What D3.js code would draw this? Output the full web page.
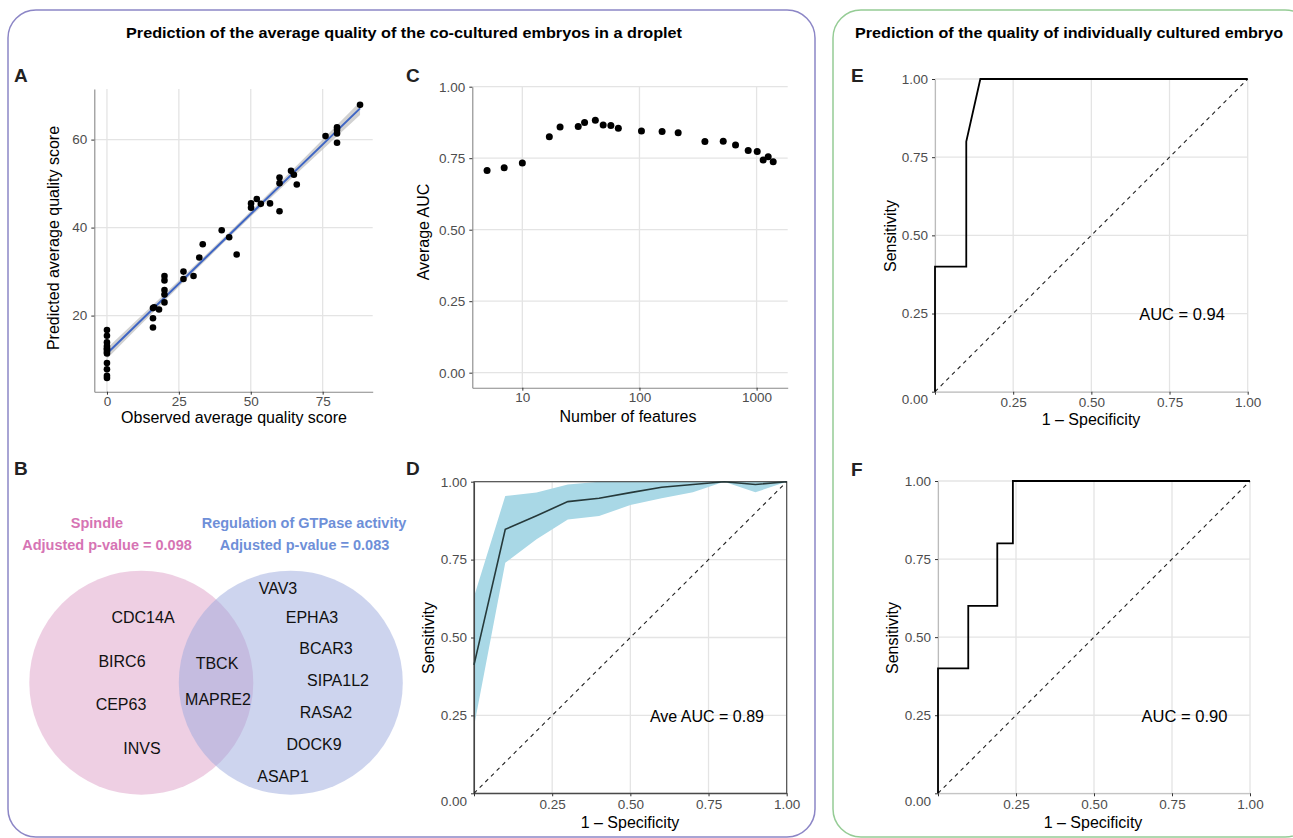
<!DOCTYPE html>
<html>
<head>
<meta charset="utf-8">
<script src="https://cdn.jsdelivr.net/npm/d3@7"></script>
<style>
  body { margin: 0; background: #fff; }
  text { font-family: "Liberation Sans", Arial, Helvetica, sans-serif; }
</style>
</head>
<body>
<svg id="fig" width="1293" height="838"></svg>
<script>
// ---- data ----
// A: observed vs predicted average quality score
const aObserved = [0,0,0,0,0,0,0,0,0,0,0,0,
  16,16.4,16,16,18.1,20,20,20,20,20,26.6,26.6,30.1,32.1,33.3,39.9,42.5,45.1,
  50.1,50.1,52.1,53.5,56.7,60,60,60,64,65,66,76,80,80,80,80,88];
const aPredicted = [16.7,15.4,13.9,13.1,12.6,12.3,11.8,11.4,9.2,7.8,6.3,5.8,
  21.7,21.9,19.4,17.3,21.4,29.0,28.0,25.8,24.8,23.0,30.0,28.3,29.0,33.2,36.2,39.4,37.8,33.9,
  45.5,44.5,46.5,45.4,45.5,51.4,50.1,43.7,52.9,52.0,49.8,60.8,62.8,62.2,61.4,59.3,67.9];
// lm fit with confidence band (x, fit, lower, upper)
const aFitX = [0, 44, 88];
const aFit = [11.4, 39.3, 67.1];
const aFitLo = [10.2, 38.7, 65.6];
const aFitHi = [12.6, 39.9, 68.6];

// C: number of features vs average AUC
const cFeatures = [5,7,10,17,21,30,34,42,49,57,66,104,156,214,362,519,661,848,1012,1138,1256,1386];
const cAuc = [0.707,0.717,0.733,0.825,0.859,0.861,0.875,0.883,0.866,0.864,0.855,0.845,
  0.843,0.839,0.808,0.809,0.796,0.777,0.773,0.744,0.755,0.738];

// D: average ROC with band
const dFpr = [0,0.1,0.2,0.3,0.4,0.5,0.6,0.7,0.8,0.9,1.0];
const dMean = [0.412,0.847,0.891,0.936,0.947,0.965,0.982,0.991,1.0,0.991,1.0];
const dUpper = [0.631,0.954,0.965,0.991,1.0,1.0,1.0,1.0,1.0,1.0,1.0];
const dLower = [0.214,0.740,0.815,0.879,0.890,0.925,0.947,0.966,1.0,0.966,1.0];

// E, F: single ROC curves
const eFpr = [0,0,0.1,0.1,0.145,1];
const eTpr = [0,0.4,0.4,0.8,1,1];
const fFpr = [0,0,0.097,0.097,0.19,0.19,0.24,0.24,1];
const fTpr = [0,0.4,0.4,0.6,0.6,0.8,0.8,1,1];

const rocTicks = [0, 0.25, 0.5, 0.75, 1];

// B: gene sets
const spindleOnly = ["CDC14A","BIRC6","CEP63","INVS"];
const sharedGenes = ["TBCK","MAPRE2"];
const gtpaseOnly = ["VAV3","EPHA3","BCAR3","SIPA1L2","RASA2","DOCK9","ASAP1"];
const setNames = ["Spindle", "Regulation of GTPase activity"];
const setPvals = ["Adjusted p-value = 0.098", "Adjusted p-value = 0.083"];

// ---- drawing ----
const svg = d3.select("#fig");
const tickGrey = "#4d4d4d";
const gridCol = "#e4e4e4";

// outer boxes
svg.append("rect").attr("x", 8).attr("y", 10).attr("width", 807).attr("height", 827)
  .attr("rx", 28).attr("fill", "none").attr("stroke", "#8c86c6").attr("stroke-width", 1.5);
svg.append("rect").attr("x", 833).attr("y", 10).attr("width", 480).attr("height", 827)
  .attr("rx", 28).attr("fill", "none").attr("stroke", "#95cc95").attr("stroke-width", 1.5);

svg.append("text").attr("x", 404).attr("y", 38).attr("text-anchor", "middle")
  .attr("font-weight", "bold").style("font-size", "14px")
  .attr("textLength", 556).attr("lengthAdjust", "spacingAndGlyphs")
  .text("Prediction of the average quality of the co-cultured embryos in a droplet");
svg.append("text").attr("x", 1069).attr("y", 38).attr("text-anchor", "middle")
  .attr("font-weight", "bold").style("font-size", "14px")
  .attr("textLength", 428).attr("lengthAdjust", "spacingAndGlyphs")
  .text("Prediction of the quality of individually cultured embryo");

const letters = [["A", 14, 82], ["C", 406, 82], ["B", 14, 475], ["D", 406, 475], ["E", 851, 82], ["F", 851, 476]];
svg.selectAll("text.letter").data(letters).join("text").attr("class", "letter")
  .attr("x", d => d[1]).attr("y", d => d[2])
  .attr("font-weight", "bold").style("font-size", "19px").attr("fill", "#222").text(d => d[0]);

function styleAxis(g, lineCol) {
  g.select(".domain").attr("stroke", lineCol).attr("stroke-width", 1.1);
  g.selectAll(".tick line").attr("stroke", "#333");
  g.selectAll(".tick text").attr("fill", tickGrey).style("font-size", "13.5px")
    .style("font-family", "'Liberation Sans', Arial, sans-serif");
}

function grid(g, x, y, xt, yt) {
  const [x0, x1] = x.range(), [y0, y1] = y.range();
  g.selectAll("line.gx").data(xt).join("line").attr("class", "gx")
    .attr("x1", d => x(d)).attr("x2", d => x(d)).attr("y1", y0).attr("y2", y1)
    .attr("stroke", gridCol).attr("stroke-width", 1.3);
  g.selectAll("line.gy").data(yt).join("line").attr("class", "gy")
    .attr("y1", d => y(d)).attr("y2", d => y(d)).attr("x1", x0).attr("x2", x1)
    .attr("stroke", gridCol).attr("stroke-width", 1.3);
}

function axisTitles(xLab, xx, xy, yLab, yx, yy) {
  svg.append("text").attr("x", xx).attr("y", xy).attr("text-anchor", "middle")
    .style("font-size", "16px").text(xLab);
  svg.append("text").attr("transform", `translate(${yx},${yy}) rotate(-90)`)
    .attr("text-anchor", "middle").style("font-size", "16px").text(yLab);
}

// ---- panel A ----
{
  const x = d3.scaleLinear().domain([-4.4, 92.4]).range([94.3, 372.7]);
  const y = d3.scaleLinear().domain([2.7, 71.5]).range([391.7, 89]);
  const g = svg.append("g");
  grid(g, x, y, [0, 25, 50, 75], [20, 40, 60]);
  const fit = aFitX.map((v, i) => ({x: v, y: aFit[i], lo: aFitLo[i], hi: aFitHi[i]}));
  g.append("path").datum(fit).attr("fill", "#bdbdbd").attr("opacity", 0.7)
    .attr("d", d3.area().x(d => x(d.x)).y0(d => y(d.lo)).y1(d => y(d.hi)).curve(d3.curveNatural));
  g.append("path").datum(fit).attr("fill", "none").attr("stroke", "#3f66c4").attr("stroke-width", 2)
    .attr("d", d3.line().x(d => x(d.x)).y(d => y(d.y)));
  g.selectAll("circle").data(aObserved).join("circle")
    .attr("cx", d => x(d)).attr("cy", (d, i) => y(aPredicted[i])).attr("r", 3.3).attr("fill", "#000");
  styleAxis(g.append("g").attr("transform", "translate(0,391.7)")
    .call(d3.axisBottom(x).tickValues([0, 25, 50, 75]).tickSize(3).tickSizeOuter(0).tickPadding(2)), "#888");
  styleAxis(g.append("g").attr("transform", "translate(94.3,0)")
    .call(d3.axisLeft(y).tickValues([20, 40, 60]).tickSize(3).tickSizeOuter(0).tickPadding(4)), "#888");
  axisTitles("Observed average quality score", 234, 423, "Predicted average quality score", 59, 238);
}

// ---- panel C ----
{
  const x = d3.scaleLog().domain([3.74, 1843]).range([472.3, 787.7]);
  const y = d3.scaleLinear().domain([-0.0525, 1]).range([387.7, 86.7]);
  const g = svg.append("g");
  grid(g, x, y, [10, 100, 1000], [0, 0.25, 0.5, 0.75, 1]);
  g.selectAll("circle").data(cFeatures).join("circle")
    .attr("cx", d => x(d)).attr("cy", (d, i) => y(cAuc[i])).attr("r", 3.5).attr("fill", "#000");
  styleAxis(g.append("g").attr("transform", "translate(0,387.7)")
    .call(d3.axisBottom(x).tickValues([10, 100, 1000]).tickFormat(d3.format("d")).tickSize(3).tickSizeOuter(0).tickPadding(2)), "#888");
  styleAxis(g.append("g").attr("transform", "translate(472.3,0)")
    .call(d3.axisLeft(y).tickValues([0, 0.25, 0.5, 0.75, 1]).tickFormat(d3.format(".2f")).tickSize(3).tickSizeOuter(0).tickPadding(4)), "#888");
  axisTitles("Number of features", 628, 422, "Average AUC", 429, 232);
}

// ROC frame shared by D, E, F
function rocFrame(x, y, border) {
  const g = svg.append("g");
  grid(g, x, y, rocTicks, rocTicks);
  const [x0, x1] = x.range(), [y0, y1] = y.range();
  const ax = g.append("g").attr("transform", `translate(0,${y0})`)
    .call(d3.axisBottom(x).tickValues(rocTicks).tickFormat(d => d === 0 ? "" : d3.format(".2f")(d))
      .tickSize(3).tickSizeOuter(0).tickPadding(3));
  styleAxis(ax, border ? "#444" : "#bbb");
  const ay = g.append("g").attr("transform", `translate(${x0},0)`)
    .call(d3.axisLeft(y).tickValues(rocTicks).tickFormat(d3.format(".2f")).tickSize(3).tickSizeOuter(0).tickPadding(4));
  styleAxis(ay, border ? "#444" : "#bbb");
  ay.selectAll(".tick text").filter(d => d === 0).attr("dy", "0.9em");
  if (border) {
    g.append("rect").attr("x", x0).attr("y", y1).attr("width", x1 - x0).attr("height", y0 - y1)
      .attr("fill", "none").attr("stroke", "#444").attr("stroke-width", 1.1);
  }
  return g;
}

function diag(g, x, y) {
  g.append("line").attr("x1", x(0)).attr("y1", y(0)).attr("x2", x(1)).attr("y2", y(1))
    .attr("stroke", "#222").attr("stroke-width", 1.1).attr("stroke-dasharray", "4,4");
}

// ---- panel D ----
{
  const x = d3.scaleLinear().domain([0, 1]).range([474, 786.7]);
  const y = d3.scaleLinear().domain([0, 1]).range([793.3, 481.7]);
  const g = rocFrame(x, y, true);
  const pts = dFpr.map((v, i) => ({x: v, m: dMean[i], lo: dLower[i], hi: dUpper[i]}));
  g.insert("path", "g").datum(pts).attr("fill", "#a9d8e6")
    .attr("d", d3.area().x(d => x(d.x)).y0(d => y(d.lo)).y1(d => y(d.hi)));
  diag(g, x, y);
  g.append("path").datum(pts).attr("fill", "none").attr("stroke", "#26393a").attr("stroke-width", 1.6)
    .attr("d", d3.line().x(d => x(d.x)).y(d => y(d.m)));
  g.append("text").attr("x", x(0.745)).attr("y", 722).attr("text-anchor", "middle")
    .style("font-size", "16px").text("Ave AUC = 0.89");
  axisTitles("1 \u2013 Specificity", 630, 828, "Sensitivity", 434, 638);
}

// ---- panels E and F ----
function rocPanel(fpr, tpr, xr, yr, label, labY, xt, yt) {
  const x = d3.scaleLinear().domain([0, 1]).range(xr);
  const y = d3.scaleLinear().domain([0, 1]).range(yr);
  const g = rocFrame(x, y, false);
  diag(g, x, y);
  g.append("path").datum(fpr.map((v, i) => [v, tpr[i]])).attr("fill", "none")
    .attr("stroke", "#000").attr("stroke-width", 1.8)
    .attr("d", d3.line().x(d => x(d[0])).y(d => y(d[1])));
  g.append("text").attr("x", x(0.79)).attr("y", labY).attr("text-anchor", "middle")
    .style("font-size", "16.5px").text(label);
  axisTitles("1 \u2013 Specificity", xt[0], xt[1], "Sensitivity", yt[0], yt[1]);
}
rocPanel(eFpr, eTpr, [935, 1247.7], [391.7, 79], "AUC = 0.94", 319.5, [1091, 425], [896, 236]);
rocPanel(fFpr, fTpr, [938, 1250], [793.3, 481], "AUC = 0.90", 722, [1093, 828], [898, 638]);

// ---- panel B: Venn ----
{
  const g = svg.append("g");
  const circles = [
    {cx: 141.3, cy: 682.7, fill: "rgb(221,160,200)"},
    {cx: 290.8, cy: 682.7, fill: "rgb(155,170,222)"}
  ];
  g.selectAll("circle").data(circles).join("circle")
    .attr("cx", d => d.cx).attr("cy", d => d.cy).attr("r", 112)
    .attr("fill", d => d.fill).attr("fill-opacity", 0.5);

  const headCols = ["#d674b4", "#6e8fd8"];
  const headX = [[97, 107], [304, 304.5]];
  setNames.forEach((n, i) => {
    g.append("text").attr("x", headX[i][0]).attr("y", 528).attr("text-anchor", "middle")
      .attr("font-weight", "bold").style("font-size", "14.5px").attr("fill", headCols[i]).text(n);
    g.append("text").attr("x", headX[i][1]).attr("y", 550).attr("text-anchor", "middle")
      .attr("font-weight", "bold").style("font-size", "14.5px").attr("fill", headCols[i]).text(setPvals[i]);
  });

  // label layout (centre positions) for each region
  const leftPos = [[143, 617], [122, 661], [121, 704], [142, 748]];
  const midPos = [[217, 663], [218, 699]];
  const rightPos = [[278, 588], [312, 617], [326, 648], [338, 680], [326, 712], [314, 744], [283, 776]];
  const labels = [
    ...spindleOnly.map((t, i) => ({t, p: leftPos[i]})),
    ...sharedGenes.map((t, i) => ({t, p: midPos[i]})),
    ...gtpaseOnly.map((t, i) => ({t, p: rightPos[i]}))
  ];
  g.selectAll("text.gene").data(labels).join("text").attr("class", "gene")
    .attr("x", d => d.p[0]).attr("y", d => d.p[1]).attr("dy", "0.36em")
    .attr("text-anchor", "middle").style("font-size", "16px").attr("fill", "#111").text(d => d.t);
}
</script>
</body>
</html>
